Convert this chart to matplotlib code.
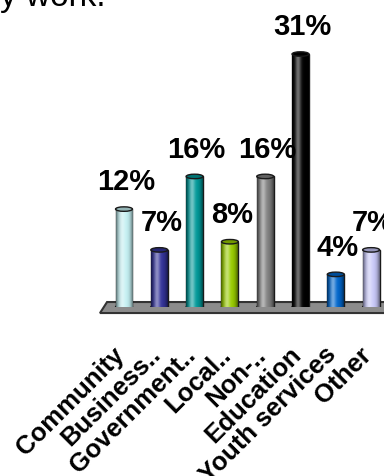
import matplotlib.pyplot as plt
import matplotlib.colors as mcolors
from matplotlib.patches import Polygon, Ellipse
from matplotlib.transforms import ScaledTranslation
import numpy as np

# data
categories = ["Community", "Business..", "Government..", "Local..", "Non-..",
              "Education", "Youth services", "Other"]
values = [12, 7, 16, 8, 16, 31, 4, 7]
labels = ["12%", "7%", "16%", "8%", "16%", "31%", "4%", "7%"]
colors = ["#C4F0F2", "#333399", "#009999", "#99CC00", "#808080",
          "#000000", "#0066CC", "#C8C8F8"]

plt.rcParams['font.family'] = ['Liberation Sans', 'DejaVu Sans']

fig = plt.figure(figsize=(3.84, 4.77), dpi=100)
ax = fig.add_axes([0, 169 / 477, 1, 308 / 477])

x = np.arange(len(values))
w = 0.48

# floor of the 3d chart
floor = Polygon([(-0.68, -0.74), (8.5, -0.74), (8.7, 0.61), (-0.48, 0.61)],
                closed=True, facecolor="#8c8c8c", edgecolor="#333333",
                linewidth=1.5, clip_on=False, zorder=2)
ax.add_patch(floor)

bars = ax.bar(x, values, width=w, color=colors, edgecolor="#1a1a1a",
              linewidth=1.0, zorder=3)

# cylinder shading
t = np.linspace(0, 1, 60)
light = 0.45 * np.exp(-((t - 0.35) / 0.18) ** 2)
dark = 0.55 * np.abs(2 * t - 1) ** 3
for b, c, xi, v in zip(bars, colors, x, values):
    base = np.array(mcolors.to_rgb(c))
    col = base[None, :] * (1 - light[:, None]) + light[:, None]
    col = col * (1 - dark[:, None])
    img = ax.imshow(col[None, :, :], extent=[xi - w / 2, xi + w / 2, 0, v],
                    aspect='auto', zorder=3.5, interpolation='bilinear')
    img.set_clip_path(b)
    top = base * 0.75
    ax.add_patch(Ellipse((xi, v), w, 0.55, facecolor=top, edgecolor="#1a1a1a",
                         linewidth=1.0, zorder=4))
    ax.add_patch(Ellipse((xi, 0), w, 0.55, facecolor=base * 0.8,
                         edgecolor="#1a1a1a", linewidth=1.0, zorder=2.8))

for xi, v, lab in zip(x, values, labels):
    ax.text(xi + 0.06, v + 2.4, lab, ha='center', va='baseline',
            fontsize=21, fontweight='bold', clip_on=False, zorder=5)

ax.set_xlim(-124 / 35.3, (384 - 124) / 35.3)
ax.set_ylim(0, 308 / 8.16)
ax.set_xticks(x, categories, rotation=45, ha='right', va='center',
              rotation_mode='anchor', fontsize=18.5, fontweight='bold')
ax.tick_params(axis='x', length=0, pad=31)
ax.tick_params(axis='y', left=False, labelleft=False)
for s in ax.spines.values():
    s.set_visible(False)
ax.patch.set_visible(False)

shift = ScaledTranslation(-3 / 100, 0, fig.dpi_scale_trans)
for lbl in ax.get_xticklabels():
    lbl.set_transform(lbl.get_transform() + shift)

fig.text(0.0, 1 - 6 / 477, "y work.", fontsize=24, ha='left', va='baseline')

fig.savefig("out.png", dpi=100)
